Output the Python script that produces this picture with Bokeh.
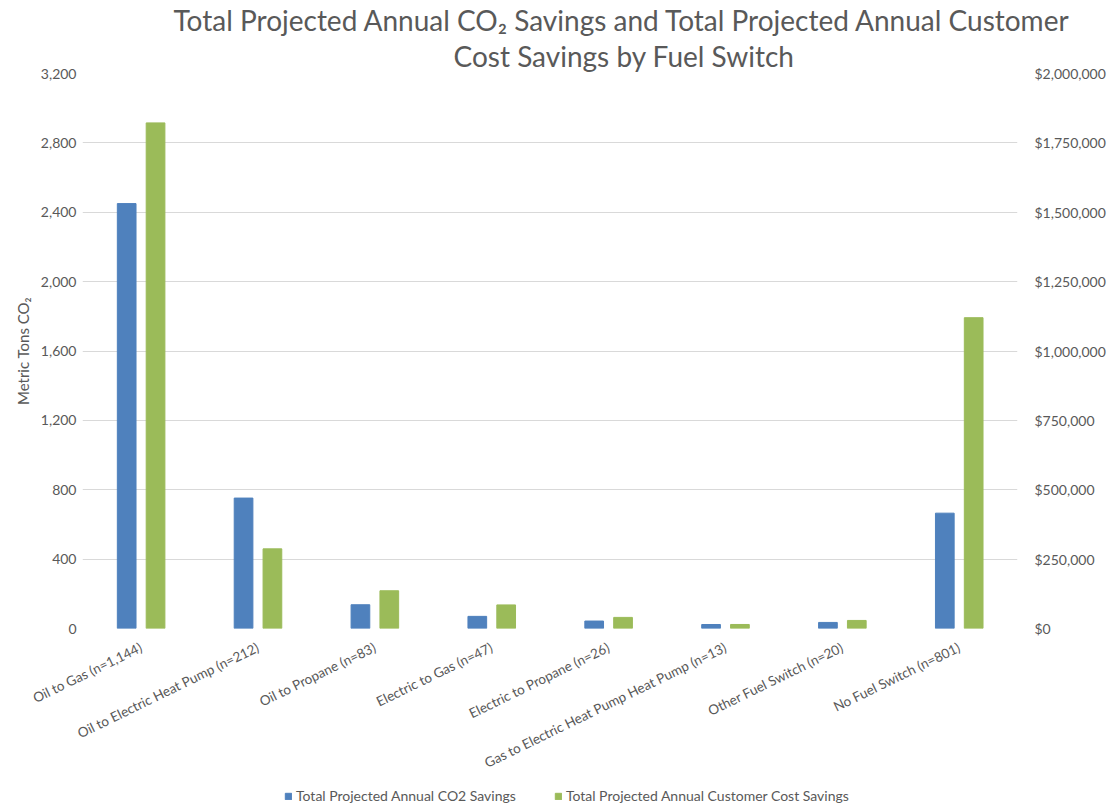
import math
from bokeh.plotting import figure
from bokeh.layouts import column
from bokeh.models import (ColumnDataSource, FactorRange, Range1d, LinearAxis, Title,
                          Legend, LegendItem, NumeralTickFormatter, FixedTicker)
from bokeh.transform import dodge
from bokeh.embed import file_html
from bokeh.resources import INLINE

categories = ["Oil to Gas (n=1,144)", "Oil to Electric Heat Pump (n=212)", "Oil to Propane (n=83)",
              "Electric to Gas (n=47)", "Electric to Propane (n=26)",
              "Gas to Electric Heat Pump Heat Pump (n=13)", "Other Fuel Switch (n=20)",
              "No Fuel Switch (n=801)"]
co2_savings = [2450, 752, 137, 70, 43, 23, 35, 665]
cost_savings = [1822000, 287000, 136000, 85000, 40000, 14500, 29000, 1120000]
left_ticks = [0, 400, 800, 1200, 1600, 2000, 2400, 2800, 3200]
right_ticks = [0, 250000, 500000, 750000, 1000000, 1250000, 1500000, 1750000, 2000000]

title_line1 = "Total Projected Annual CO\u2082 Savings and Total Projected Annual Customer"
title_line2 = "Cost Savings by Fuel Switch"
series_names = ["Total Projected Annual CO2 Savings", "Total Projected Annual Customer Cost Savings"]

FONT = "Lato"
GRAY = "#595959"
BLUE = "#4F81BD"
GREEN = "#9BBB59"

source = ColumnDataSource(data=dict(cat=categories, co2=co2_savings, cost=cost_savings))

p = figure(x_range=FactorRange(*categories), y_range=Range1d(0, 3200),
           frame_width=935, frame_height=555, output_backend="svg", toolbar_location=None,
           min_border=0, min_border_left=82, min_border_bottom=152)
p.extra_y_ranges = {"right": Range1d(0, 2000000)}

r1 = p.vbar(x=dodge("cat", -0.122, range=p.x_range), top="co2", width=0.16,
            source=source, color=BLUE)
r2 = p.vbar(x=dodge("cat", 0.125, range=p.x_range), top="cost", width=0.16,
            source=source, color=GREEN, y_range_name="right")

# Left axis
ya = p.yaxis[0]
ya.ticker = FixedTicker(ticks=left_ticks)
ya.formatter = NumeralTickFormatter(format="0,0")
ya.axis_label = "Metric Tons CO\u2082"
ya.axis_label_text_font = FONT
ya.axis_label_text_font_size = "15px"
ya.axis_label_text_font_style = "normal"
ya.axis_label_text_color = GRAY
ya.axis_label_standoff = 6

# Right axis
ra = LinearAxis(y_range_name="right", ticker=FixedTicker(ticks=right_ticks),
                formatter=NumeralTickFormatter(format="$0,0"))
p.add_layout(ra, "right")

for ax in [ya, ra]:
    ax.axis_line_color = None
    ax.major_tick_line_color = None
    ax.minor_tick_line_color = None
    ax.major_label_text_font = FONT
    ax.major_label_text_font_size = "14px"
    ax.major_label_text_color = GRAY
ya.major_label_standoff = 0
ra.major_label_standoff = 11

xa = p.xaxis[0]
xa.axis_line_color = None
xa.major_tick_line_color = None
xa.minor_tick_line_color = None
xa.major_label_orientation = math.radians(26)
xa.major_label_text_font = FONT
xa.major_label_text_font_size = "13.5px"
xa.major_label_text_color = GRAY
xa.major_label_standoff = 12

p.xgrid.grid_line_color = None
p.ygrid.grid_line_color = "#d9d9d9"
p.ygrid.ticker = FixedTicker(ticks=left_ticks)
p.outline_line_color = None

# Titles (second line added first, so it sits nearest to the plot)
t2 = Title(text=title_line2, align="left", offset=371, text_font=FONT,
           text_font_size="28px", text_font_style="normal", text_color=GRAY, standoff=1)
t1 = Title(text=title_line1, align="left", offset=91, text_font=FONT,
           text_font_size="28px", text_font_style="normal", text_color=GRAY, standoff=0)
p.add_layout(t2, "above")
p.add_layout(t1, "above")

# Legend strip below the chart (swatch glyphs sit outside the visible range)
lf = figure(frame_width=1100, frame_height=30, output_backend="svg", toolbar_location=None,
            x_axis_type=None, y_axis_type=None, min_border=0,
            x_range=Range1d(0, 1), y_range=Range1d(0, 1))
lf.outline_line_color = None
lr1 = lf.vbar(x=[-5], top=[-5], bottom=[-6], width=0.1, color=BLUE)
lr2 = lf.vbar(x=[-5], top=[-5], bottom=[-6], width=0.1, color=GREEN)
legend = Legend(items=[LegendItem(label=series_names[0], renderers=[lr1]),
                       LegendItem(label=series_names[1], renderers=[lr2])],
                orientation="horizontal", location=(284, 6),
                label_text_font=FONT, label_text_font_size="14px", label_text_color=GRAY,
                glyph_width=8, glyph_height=8, spacing=38, border_line_color=None,
                background_fill_alpha=0, margin=0, padding=2, label_standoff=4,
                label_height=14)
lf.add_layout(legend, "center")

layout = column(p, lf, spacing=0)
open("out.html", "w").write(file_html(layout, INLINE))
